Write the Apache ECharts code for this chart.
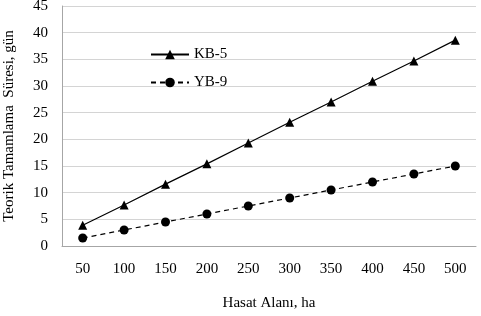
<!DOCTYPE html>
<html>

<head>
    <meta charset="utf-8">
    <script src="https://cdn.jsdelivr.net/npm/echarts@6/dist/echarts.min.js"></script>
    <style>
        body { margin: 0; background: #fff; }
        #main { width: 481px; height: 316px; }
    </style>
</head>

<body>
    <div id="main"></div>
</body>
<script>
    var alan = ['50', '100', '150', '200', '250', '300', '350', '400', '450', '500'];
    var kb5 = [3.9, 7.7, 11.6, 15.4, 19.3, 23.2, 27.0, 30.9, 34.7, 38.6];
    var yb9 = [1.5, 3.0, 4.5, 6.0, 7.5, 9.0, 10.5, 12.0, 13.5, 15.0];

    var font = 'Liberation Serif';
    var myChart = echarts.init(document.getElementById('main'));
    myChart.setOption({
        animation: false,
        textStyle: { fontFamily: font },
        grid: { left: 62, right: 5, top: 6, bottom: 70, outerBoundsMode: 'none' },
        legend: {
            left: 145,
            top: 42,
            orient: 'vertical',
            itemGap: 13,
            itemWidth: 38,
            itemHeight: 12,
            textStyle: { fontFamily: font, fontSize: 15, color: '#000' },
            data: ['KB-5', 'YB-9']
        },
        xAxis: {
            type: 'category',
            data: alan,
            name: 'Hasat Alanı, ha',
            nameLocation: 'middle',
            nameGap: 50,
            nameTextStyle: { fontFamily: font, fontSize: 15, color: '#000' },
            axisLine: { lineStyle: { color: '#a6a6a6' } },
            axisTick: { alignWithLabel: true, lineStyle: { color: '#a6a6a6' } },
            axisLabel: { fontFamily: font, fontSize: 15, color: '#000', margin: 16 }
        },
        yAxis: {
            type: 'value',
            min: 0,
            max: 45,
            interval: 5,
            name: 'Teorik Tamamlama  Süresi, gün',
            nameLocation: 'middle',
            nameGap: 45,
            nameTextStyle: { fontFamily: font, fontSize: 15, color: '#000' },
            axisLine: { show: true, lineStyle: { color: '#a6a6a6' } },
            axisTick: { show: false },
            axisLabel: { fontFamily: font, fontSize: 15, color: '#000', margin: 14 },
            splitLine: { lineStyle: { color: '#d4d4d4' } }
        },
        series: [{
            name: 'KB-5',
            type: 'line',
            data: kb5,
            symbol: 'triangle',
            symbolSize: 9,
            itemStyle: { color: '#000' },
            lineStyle: { color: '#000', width: 1.2 }
        }, {
            name: 'YB-9',
            type: 'line',
            data: yb9,
            symbol: 'circle',
            symbolSize: 9,
            itemStyle: { color: '#000' },
            lineStyle: { color: '#000', width: 1.2, type: [5, 4] }
        }]
    });
</script>

</html>
